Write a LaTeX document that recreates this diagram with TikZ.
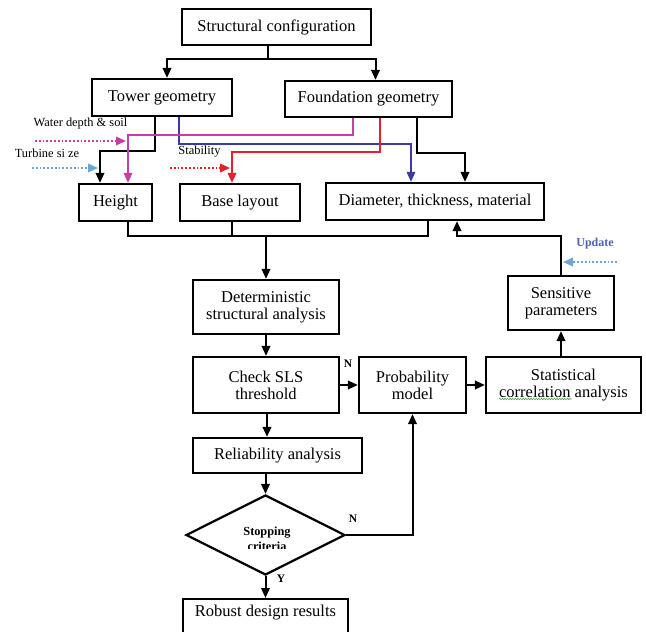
\documentclass[tikz,border=0pt]{standalone}
\usepackage{fontspec}
\setmainfont{Liberation Serif}
\usetikzlibrary{arrows.meta,shapes.geometric,decorations.pathmorphing}
\definecolor{pinkc}{RGB}{196,62,168}
\definecolor{navyc}{RGB}{58,58,160}
\definecolor{redc}{RGB}{232,30,40}
\definecolor{lblue}{RGB}{106,166,216}
\definecolor{updc}{RGB}{80,96,176}
\definecolor{sqg}{RGB}{60,170,60}
\begin{document}
\begin{tikzpicture}[x=1pt,y=-1pt,
  box/.style={draw,line width=2.2pt,inner sep=0pt,align=center,font=\fontsize{16.5}{17}\selectfont},
  ln/.style={line width=2pt},
  tip/.style={-{Triangle[length=10pt,width=8.5pt]}},
  arr/.style={ln,tip},
  colarr/.style={line width=1.8pt,draw=#1,-{Triangle[length=10pt,width=8.5pt,fill=#1]}},
  dotarr/.style={line width=1.8pt,draw=#1,dotted,-{Triangle[length=10pt,width=8.5pt,fill=#1]}},
  lab/.style={inner sep=0pt,font=\fontsize{12.4}{14}\selectfont},
  yn/.style={inner sep=0pt,font=\bfseries\fontsize{11.5}{13}\selectfont}]
\useasboundingbox (0,0) rectangle (646,632);
\clip (0,0) rectangle (646,632);
\fill[white] (0,0) rectangle (646,632);

% boxes
\node[box,minimum width=189pt,minimum height=36pt] (sc) at (276.5,27) {Structural configuration};
\node[box,minimum width=140pt,minimum height=37pt] (tg) at (162,97.5) {Tower geometry};
\node[box,minimum width=167pt,minimum height=36pt] (fg) at (368.5,99) {Foundation geometry};
\node[box,minimum width=73pt,minimum height=37pt] (ht) at (115.5,202.5) {Height};
\node[box,minimum width=120pt,minimum height=37pt] (bl) at (240,202.5) {Base layout};
\node[box,minimum width=218pt,minimum height=37pt] (dm) at (435,201.5) {Diameter, thickness, material};
\node[box,minimum width=146pt,minimum height=54pt] (da) at (266,307) {Deterministic\\structural analysis};
\node[box,minimum width=146pt,minimum height=56pt] (cs) at (266,385) {Check SLS\\threshold};
\node[box,minimum width=107pt,minimum height=56pt] (pm) at (412.5,385) {Probability\\model};
\node[box,minimum width=155pt,minimum height=56pt] (st) at (563.5,385) {Statistical\\correlation analysis};
\node[box,minimum width=106pt,minimum height=54pt] (sp) at (561,303) {Sensitive\\parameters};
\node[box,minimum width=169pt,minimum height=35pt] (ra) at (277.5,455.5) {Reliability analysis};
\node[draw,diamond,line width=2.2pt,inner sep=0pt,minimum width=159pt,minimum height=80pt] (dia) at (265.5,535) {};
\node[box,minimum width=165pt,minimum height=40pt,anchor=north] (rb) at (265.5,598) {};
\node[inner sep=0pt,font=\fontsize{16.5}{17}\selectfont] (rbt) at (265.5,613) {Robust design results};

% stopping criteria text, lower line cut
\path (dia.center) ++(-45,-25) coordinate (cc1) ++(90,38) coordinate (cc2);
\begin{scope}
\clip (cc1) rectangle (cc2);
\node[inner sep=0pt,align=center,font=\bfseries\fontsize{12.3}{15}\selectfont] (sct) at (267,539) {Stopping\\criteria};
\end{scope}

% green spell-check squiggle
\draw[sqg,line width=0.6pt,decorate,decoration={snake,amplitude=0.7pt,segment length=2.6pt}]
  ([xshift=-64.5pt,yshift=-14pt]st.center) -- ([xshift=8pt,yshift=-14pt]st.center);

% top split
\draw[ln] ([xshift=-8.5pt]sc.south) -- ++(0,13) coordinate (j1);
\draw[arr] (j1) -| ([xshift=5pt]tg.north);
\draw[arr] (j1) -| ([xshift=7pt]fg.north);

% tower geometry outputs
\draw[arr] ([xshift=-7pt]tg.south) -- ++(0,34) -| ([xshift=-15.5pt]ht.north);
\draw[colarr=navyc] ([xshift=17pt]tg.south) -- ++(0,27) -| ([xshift=-24pt]dm.north);

% foundation geometry outputs
\coordinate (pinkx) at ([xshift=12.5pt]ht.north);
\coordinate (redx) at ([xshift=-8pt]bl.north);
\coordinate (blkx) at ([xshift=-15.5pt]ht.north);
\draw[colarr=pinkc] ([xshift=-15.5pt]fg.south) -- ++(0,17) -| (pinkx);
\draw[colarr=redc] ([xshift=11.5pt]fg.south) -- ++(0,34) -| (redx);
\draw[arr] ([xshift=48.5pt]fg.south) -- ++(0,35) -| ([xshift=30pt]dm.north);

% external inputs
\coordinate (wd) at (35,141);
\coordinate (tb) at (32,168);
\coordinate (sb) at (170,168);
\draw[dotarr=pinkc] (wd) -- ([xshift=-2pt]wd -| pinkx);
\draw[dotarr=lblue] (tb) -- ([xshift=-2pt]tb -| blkx);
\draw[dotarr=redc] (sb) -- ([xshift=-2pt]sb -| redx);
\node[lab] (wdl) at (80.5,124) {Water depth \& soil};
\node[lab] (tbl) at (47,153) {Turbine si ze};
\node[lab] (sbl) at (199.5,152) {Stability};

% merge to analysis
\coordinate (htb) at ([xshift=12pt]ht.south);
\coordinate (blb) at ([xshift=-8pt]bl.south);
\coordinate (dmb) at ([xshift=-7pt]dm.south);
\draw[ln] (htb) -- ++(0,14) coordinate (m1) -- (m1 -| dmb) -- (dmb);
\draw[ln] (blb) -- (blb |- m1);
\draw[arr] (m1 -| da.north) -- (da.north);

% main chain
\draw[arr] (da.south) -- (cs.north);
\draw[arr] (cs.east) -- (pm.west);
\draw[arr] (pm.east) -- (st.west);
\draw[arr] (st.north -| sp.south) -- (sp.south);
\draw[arr] (sp.north) -- ++(0,-39) -| ([xshift=22pt]dm.south);
\draw[arr] ([xshift=1pt]cs.south) -- ([xshift=1pt]cs.south |- ra.north);
\draw[arr] (dia.north |- ra.south) -- (dia.north);
\draw[arr] (dia.south) -- (rb.north);
\draw[arr] (dia.east) -| (pm.south);

% update input
\coordinate (up) at (617,262);
\draw[dotarr=lblue] (up) -- ([xshift=2pt]up -| sp.north);
\node[inner sep=0pt,text=updc,font=\bfseries\fontsize{12}{14}\selectfont] (upl) at (595,244) {Update};

% N / Y labels
\node[yn] (n1) at (348,364) {N};
\node[yn] (n2) at (353,519) {N};
\node[yn] (y1) at (281,579) {Y};
\end{tikzpicture}
\end{document}
